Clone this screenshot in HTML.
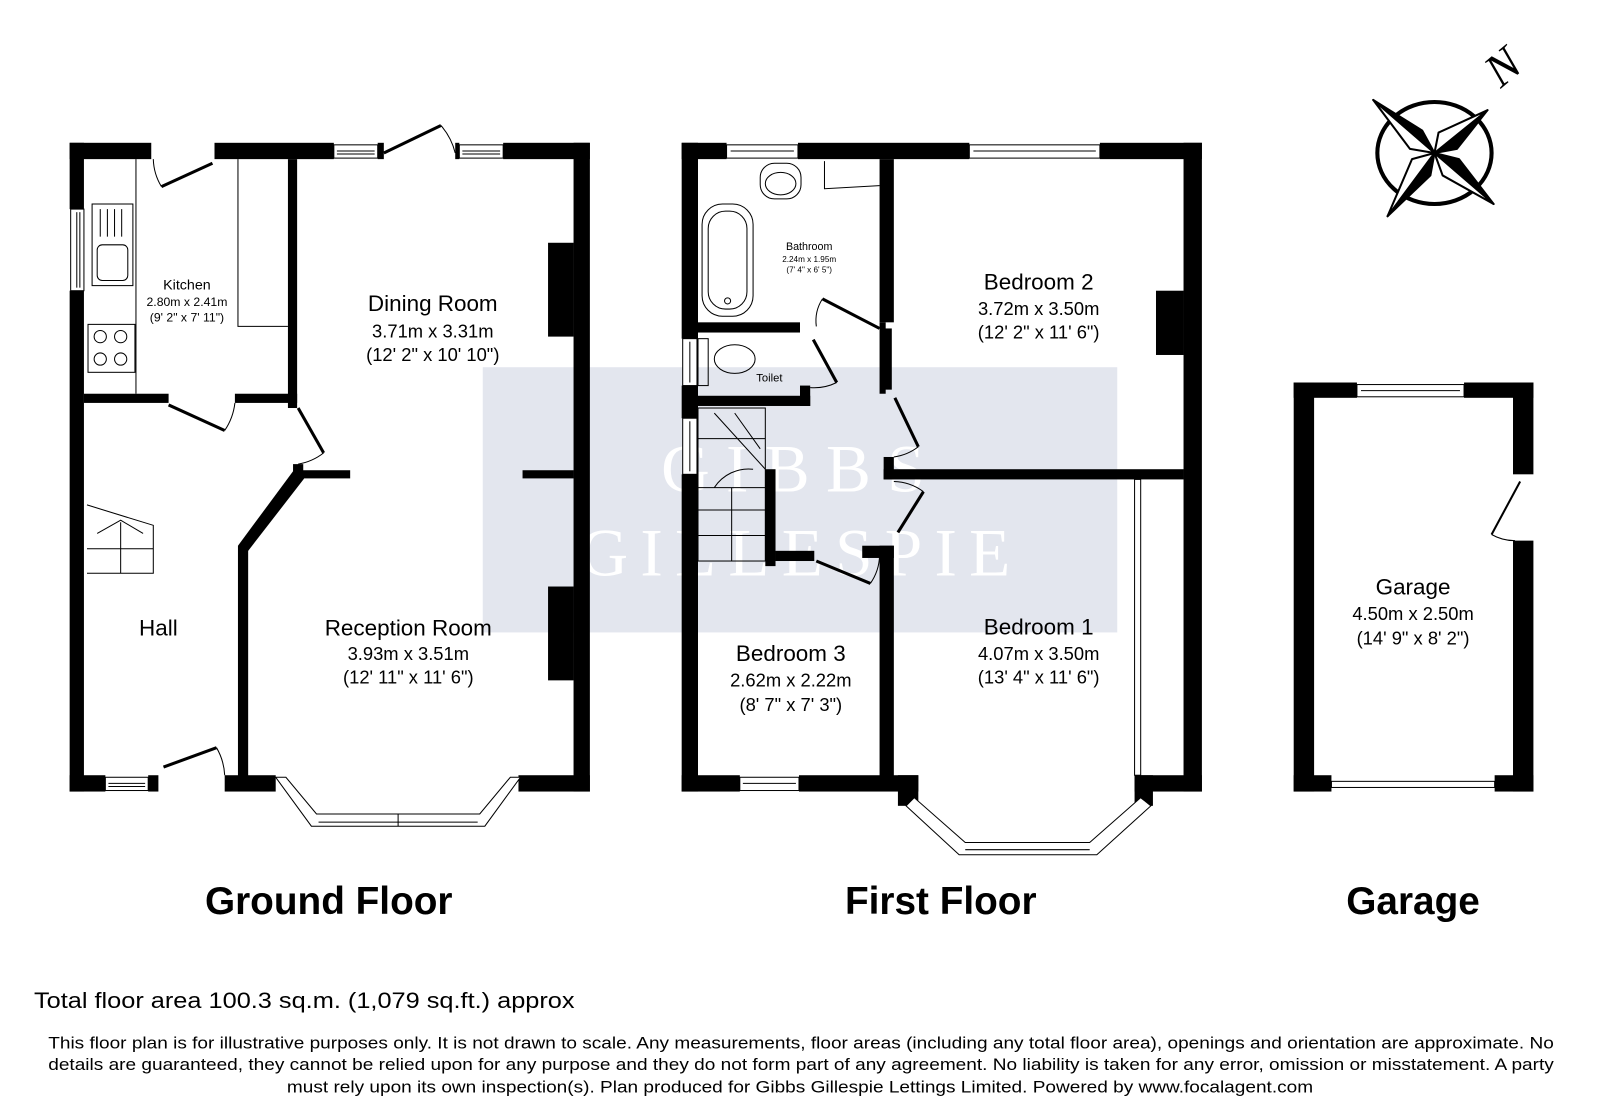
<!DOCTYPE html>
<html><head><meta charset="utf-8"><style>
html,body{margin:0;padding:0;background:#fff;}
svg{display:block;}
text{font-family:"Liberation Sans",sans-serif;fill:#000;}
</style></head><body>
<svg width="1600" height="1120" viewBox="0 0 1568 1098" xmlns="http://www.w3.org/2000/svg">
<rect x="0" y="0" width="1568" height="1098" fill="#fff"/>

<!-- watermark -->
<rect x="473" y="360" width="622" height="260" fill="#e3e6ee"/>
<text x="785" y="482" font-size="66" style="font-family:'Liberation Serif',serif;fill:#fff" text-anchor="middle" letter-spacing="16">GIBBS</text>
<text x="785" y="564" style="font-family:'Liberation Serif',serif;fill:#fff" font-size="66" text-anchor="middle" letter-spacing="12">GILLESPIE</text>

<g fill="#000">
<!-- ============ GROUND FLOOR ============ -->
<rect x="68" y="140" width="80" height="16"/>
<rect x="210" y="140" width="117" height="16"/>
<rect x="370" y="140" width="6" height="16"/>
<rect x="446" y="140" width="4" height="16"/>
<rect x="493" y="140" width="85" height="16"/>
<rect x="68" y="140" width="14" height="65"/>
<rect x="68" y="285" width="14" height="491"/>
<rect x="562" y="140" width="16" height="636"/>
<rect x="68" y="760" width="35" height="16"/>
<rect x="145" y="760" width="10" height="16"/>
<rect x="220" y="760" width="50" height="16"/>
<rect x="508" y="760" width="70" height="16"/>
<rect x="282" y="156" width="9" height="244"/>
<rect x="82" y="386" width="83" height="9"/>
<rect x="230" y="386" width="61" height="9"/>
<rect x="287" y="455" width="10" height="14"/>
<rect x="290" y="461" width="53" height="8"/>
<rect x="512" y="461" width="50" height="8"/>
<rect x="233" y="535" width="10" height="230"/>
<polygon points="287,462 298,469 243,540 233,535"/>
<rect x="537" y="238" width="25" height="92"/>
<rect x="537" y="575" width="25" height="92"/>

<!-- ============ FIRST FLOOR ============ -->
<rect x="668" y="140" width="44" height="16"/>
<rect x="782" y="140" width="168" height="16"/>
<rect x="1078" y="140" width="100" height="16"/>
<rect x="668" y="140" width="16" height="192"/>
<rect x="668" y="378" width="16" height="32"/>
<rect x="668" y="465" width="16" height="311"/>
<rect x="1160" y="140" width="18" height="636"/>
<rect x="668" y="760" width="57" height="16"/>
<rect x="783" y="760" width="117" height="16"/>
<rect x="880" y="760" width="20" height="30"/>
<rect x="1112" y="760" width="66" height="16"/>
<rect x="1112" y="760" width="18" height="30"/>
<rect x="862" y="156" width="14" height="160"/>
<rect x="862" y="316" width="6" height="70"/>
<rect x="866" y="322" width="8" height="60"/>
<rect x="866" y="448" width="10" height="22"/>
<rect x="866" y="460" width="294" height="10"/>
<rect x="862" y="535" width="14" height="228"/>
<rect x="684" y="316" width="100" height="10"/>
<rect x="684" y="388" width="110" height="10"/>
<rect x="784" y="378" width="10" height="20"/>
<rect x="750" y="460" width="10" height="95"/>
<rect x="760" y="540" width="38" height="10"/>
<rect x="845" y="535" width="31" height="12"/>
<rect x="1133" y="285" width="27" height="63"/>

<!-- ============ GARAGE ============ -->
<rect x="1268" y="375" width="62" height="15"/>
<rect x="1435" y="375" width="68" height="15"/>
<rect x="1268" y="375" width="20" height="401"/>
<rect x="1483" y="375" width="20" height="90"/>
<rect x="1483" y="530" width="20" height="246"/>
<rect x="1268" y="760" width="37" height="16"/>
<rect x="1465" y="760" width="38" height="16"/>
</g>

<!-- windows -->
<g fill="#fff" stroke="#000" stroke-width="1">
<rect x="327" y="142" width="43" height="13"/><line x1="330" y1="148" x2="367" y2="148"/><line x1="330" y1="151" x2="367" y2="151"/>
<rect x="450" y="142" width="43" height="13"/><line x1="453" y1="148" x2="490" y2="148"/><line x1="453" y1="151" x2="490" y2="151"/>
<rect x="69" y="205" width="13" height="80"/><line x1="75" y1="208" x2="75" y2="282"/><line x1="78" y1="208" x2="78" y2="282"/>
<rect x="103" y="762" width="42" height="13"/><line x1="106" y1="768" x2="142" y2="768"/><line x1="106" y1="771" x2="142" y2="771"/>
<polygon points="270,762 305,810 475,810 510,762 500,762 470,798 310,798 280,762"/>
<line x1="312" y1="806" x2="468" y2="806"/><line x1="390" y1="798" x2="390" y2="810"/>
<rect x="712" y="142" width="70" height="13"/><line x1="716" y1="148" x2="778" y2="148"/>
<rect x="950" y="142" width="128" height="13"/><line x1="954" y1="148" x2="1074" y2="148"/>
<rect x="669" y="332" width="14" height="46"/><line x1="676" y1="335" x2="676" y2="375"/>
<rect x="669" y="410" width="14" height="55"/><line x1="676" y1="413" x2="676" y2="462"/>
<rect x="725" y="762" width="58" height="13"/><line x1="728" y1="768" x2="780" y2="768"/>
<polygon points="888,790 940,838 1075,838 1128,790 1118,782 1068,826 946,826 896,782"/>
<line x1="946" y1="833" x2="1068" y2="833"/>
<rect x="1330" y="377" width="105" height="12"/><line x1="1334" y1="383" x2="1431" y2="383"/>
<rect x="1305" y="766" width="160" height="6"/>
<rect x="1112" y="470" width="6" height="290"/>
</g>

<!-- doors -->
<g fill="none" stroke="#000">
<path d="M158,183 L208,160" stroke-width="3"/><path d="M150,156 A55,55 0 0 0 158,183" stroke-width="1"/>
<path d="M165,397 L220,422" stroke-width="3"/><path d="M230,395 A60,60 0 0 1 220,422" stroke-width="1"/>
<path d="M292,400 L317,444" stroke-width="3"/><path d="M317,444 A55,55 0 0 1 292,455" stroke-width="1"/>
<path d="M160,752 L212,733" stroke-width="3"/><path d="M212,733 A60,60 0 0 1 220,760" stroke-width="1"/>
<path d="M376,150 L432,123" stroke-width="3"/><path d="M432,123 A65,65 0 0 1 446,150" stroke-width="1"/>
<path d="M806,293 L862,322" stroke-width="3"/><path d="M806,293 A40,40 0 0 0 800,320" stroke-width="1"/>
<path d="M797,333 L820,375" stroke-width="3"/><path d="M820,375 A50,50 0 0 1 794,380" stroke-width="1"/>
<path d="M877,390 L900,438" stroke-width="3"/><path d="M900,438 A50,50 0 0 1 876,448" stroke-width="1"/>
<path d="M905,482 L880,522" stroke-width="3"/><path d="M905,482 A50,50 0 0 0 876,472" stroke-width="1"/>
<path d="M800,550 L853,572" stroke-width="3"/><path d="M853,572 A50,50 0 0 0 862,545" stroke-width="1"/>
<path d="M1462,524 L1490,472" stroke-width="2"/><path d="M1462,524 A45,45 0 0 0 1485,530" stroke-width="1"/>
</g>

<!-- fixtures -->
<g fill="none" stroke="#000" stroke-width="1">
<line x1="133" y1="156" x2="133" y2="386"/>
<rect x="90" y="200" width="40" height="80"/><rect x="95" y="240" width="30" height="35" rx="5"/>
<line x1="98" y1="205" x2="98" y2="232"/><line x1="105" y1="205" x2="105" y2="232"/><line x1="112" y1="205" x2="112" y2="232"/><line x1="119" y1="205" x2="119" y2="232"/>
<rect x="86" y="318" width="46" height="47"/>
<circle cx="98" cy="330" r="6"/><circle cx="118" cy="330" r="6"/><circle cx="98" cy="352" r="6"/><circle cx="118" cy="352" r="6"/>
<polyline points="233,156 233,320 282,320"/>
<polyline points="85,495 150,515 150,562 85,562"/><line x1="85" y1="538" x2="150" y2="538"/><line x1="118" y1="512" x2="118" y2="562"/>
<path d="M95,523 L118,510 L140,523"/>
<rect x="745" y="160" width="40" height="35" rx="14"/><ellipse cx="765" cy="180" rx="15" ry="11"/>
<polyline points="808,158 808,185 862,182"/>
<rect x="688" y="200" width="50" height="110" rx="20"/><rect x="694" y="207" width="38" height="96" rx="17"/>
<circle cx="713" cy="295" r="3"/>
<rect x="684" y="332" width="10" height="46"/><ellipse cx="720" cy="352" rx="20" ry="14"/>
<rect x="684" y="400" width="66" height="150"/>
<line x1="684" y1="430" x2="750" y2="430"/><line x1="684" y1="478" x2="750" y2="478"/><line x1="684" y1="500" x2="750" y2="500"/><line x1="684" y1="525" x2="750" y2="525"/>
<line x1="717" y1="478" x2="717" y2="550"/>
<path d="M700,405 L750,460 M720,405 L745,440 M738,460 A40,40 0 0 0 700,478"/>
</g>

<!-- compass -->
<g transform="translate(1406,150)" stroke="#000" stroke-width="2" stroke-linejoin="round">
<ellipse cx="0" cy="0" rx="56" ry="50" fill="none" stroke-width="4"/>
<!-- NW arm -->
<polygon points="-60,-52 0,0 -12,-22" fill="#000"/><polygon points="-60,-52 0,0 -24,-4" fill="#fff"/>
<!-- NE arm -->
<polygon points="52,-42 0,0 22,-4" fill="#000"/><polygon points="52,-42 0,0 4,-20" fill="#fff"/>
<!-- SE arm -->
<polygon points="58,50 0,0 24,6" fill="#000"/><polygon points="58,50 0,0 8,22" fill="#fff"/>
<!-- SW arm -->
<polygon points="-46,62 0,0 -4,22" fill="#000"/><polygon points="-46,62 0,0 -22,6" fill="#fff"/>
</g>
<text x="1475" y="80" font-size="46" transform="rotate(-40 1475 68)" style="font-family:'Liberation Serif',serif;font-style:italic" text-anchor="middle">N</text>

<!-- labels -->
<g text-anchor="middle">
<text x="183" y="284" font-size="14">Kitchen</text>
<text x="183" y="300" font-size="12">2.80m x 2.41m</text>
<text x="183" y="315" font-size="12">(9' 2" x 7' 11")</text>
<text x="424" y="305" font-size="22">Dining Room</text>
<text x="424" y="331" font-size="18">3.71m x 3.31m</text>
<text x="424" y="354" font-size="18">(12' 2" x 10' 10")</text>
<text x="155" y="623" font-size="22">Hall</text>
<text x="400" y="623" font-size="22">Reception Room</text>
<text x="400" y="647" font-size="18">3.93m x 3.51m</text>
<text x="400" y="670" font-size="18">(12' 11" x 11' 6")</text>
<text x="793" y="245" font-size="10.5">Bathroom</text>
<text x="793" y="257" font-size="8">2.24m x 1.95m</text>
<text x="793" y="267" font-size="8">(7' 4" x 6' 5")</text>
<text x="754" y="374" font-size="11">Toilet</text>
<text x="1018" y="284" font-size="22">Bedroom 2</text>
<text x="1018" y="309" font-size="18">3.72m x 3.50m</text>
<text x="1018" y="332" font-size="18">(12' 2" x 11' 6")</text>
<text x="1018" y="622" font-size="22">Bedroom 1</text>
<text x="1018" y="647" font-size="18">4.07m x 3.50m</text>
<text x="1018" y="670" font-size="18">(13' 4" x 11' 6")</text>
<text x="775" y="648" font-size="22">Bedroom 3</text>
<text x="775" y="673" font-size="18">2.62m x 2.22m</text>
<text x="775" y="697" font-size="18">(8' 7" x 7' 3")</text>
<text x="1385" y="583" font-size="22">Garage</text>
<text x="1385" y="608" font-size="18">4.50m x 2.50m</text>
<text x="1385" y="632" font-size="18">(14' 9" x 8' 2")</text>
<text x="322" y="896" font-size="38" font-weight="bold">Ground Floor</text>
<text x="922" y="896" font-size="38" font-weight="bold">First Floor</text>
<text x="1385" y="896" font-size="38" font-weight="bold">Garage</text>
</g>
<text x="33" y="988" font-size="22" textLength="530" lengthAdjust="spacingAndGlyphs">Total floor area 100.3 sq.m. (1,079 sq.ft.) approx</text>
<text x="47" y="1028" font-size="16" textLength="1476" lengthAdjust="spacingAndGlyphs">This floor plan is for illustrative purposes only. It is not drawn to scale. Any measurements, floor areas (including any total floor area), openings and orientation are approximate. No</text>
<text x="47" y="1049" font-size="16" textLength="1476" lengthAdjust="spacingAndGlyphs">details are guaranteed, they cannot be relied upon for any purpose and they do not form part of any agreement. No liability is taken for any error, omission or misstatement. A party</text>
<text x="281" y="1071" font-size="16" textLength="1006" lengthAdjust="spacingAndGlyphs">must rely upon its own inspection(s). Plan produced for Gibbs Gillespie Lettings Limited. Powered by www.focalagent.com</text>
</svg>
</body></html>
